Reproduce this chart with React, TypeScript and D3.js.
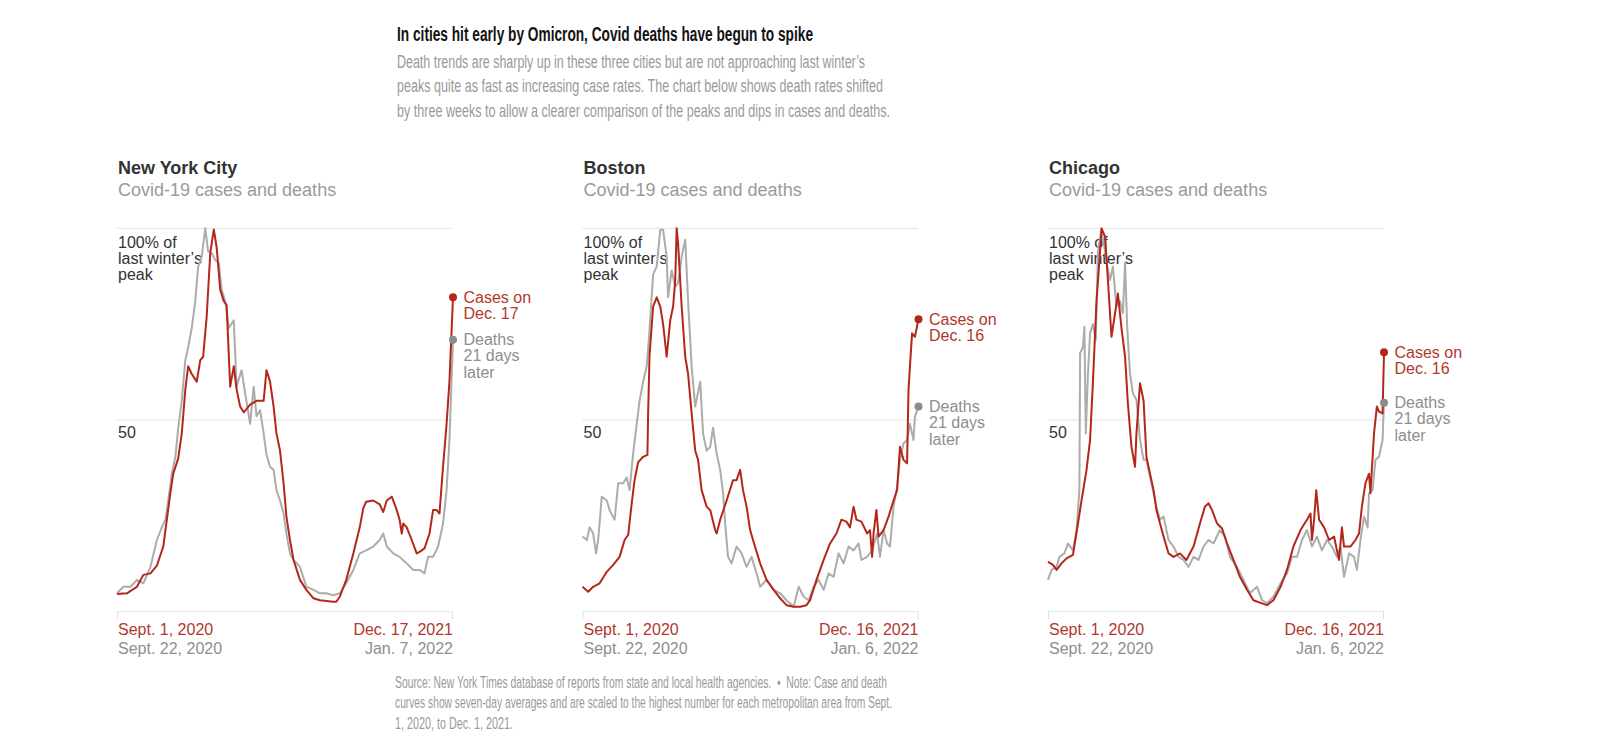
import React from "react";
import * as d3 from "d3";

// ---------- data (day offset from start, % of last winter's peak) ----------
const cities = ["New York City", "Boston", "Chicago"];
const panelSubtitle = "Covid-19 cases and deaths";
const caseStartLabel = "Sept. 1, 2020";
const deathStartLabel = "Sept. 22, 2020";
const caseEndLabels = ["Dec. 17, 2021", "Dec. 16, 2021", "Dec. 16, 2021"];
const deathEndLabels = ["Jan. 7, 2022", "Jan. 6, 2022", "Jan. 6, 2022"];
const caseEndShort = ["Dec. 17", "Dec. 16", "Dec. 16"];
const endDays = [472, 471, 471];
const yTicks = [0, 50, 100];

const nycCases: [number, number][] = [
  [0, 4.6], [14, 4.8], [28, 6.5], [37, 9.6], [47, 10], [56, 12], [65, 17], [70, 24], [75, 31], [79, 36],
  [86, 40], [91, 46.5], [96, 58], [100, 64], [105, 62], [112, 60], [117, 65.6], [121, 66.5], [126, 77], [131, 93.5],
  [136, 99.7], [140, 95], [145, 84], [150, 81], [154, 80], [159, 58.7], [164, 64], [168, 58], [173, 53.5], [178, 52],
  [187, 54], [196, 55], [206, 55], [210, 63], [215, 60], [220, 53.5], [224, 46.5], [229, 42], [234, 33.5], [238, 24.8],
  [243, 18.7], [248, 13.5], [257, 8.3], [266, 5.7], [276, 3.5], [285, 3], [294, 2.8], [304, 2.6], [308, 2.6], [313, 3.9],
  [322, 8.3], [332, 15.2], [341, 22], [346, 27], [350, 28.7], [360, 29], [369, 28], [374, 26], [379, 29], [386, 30],
  [393, 26.5], [397, 24], [400, 20.4], [402, 23], [407, 22], [414, 18.7], [421, 15.2], [425, 15.6], [432, 16.5], [439, 20.4],
  [444, 26.5], [449, 26.5], [453, 25.6], [458, 37.8], [463, 49], [467, 60], [472, 82],
];
const nycDeaths: [number, number][] = [
  [0, 4.8], [9, 6.5], [19, 6.5], [28, 8.3], [37, 7.4], [47, 11.7], [56, 18.7], [63, 22], [68, 24], [72, 29],
  [77, 36], [82, 40.4], [86, 48], [91, 55], [96, 65.6], [100, 69], [105, 74], [110, 81], [114, 90], [119, 92.6],
  [124, 100], [128, 94], [133, 93.5], [138, 91.7], [143, 91], [147, 84], [152, 81], [157, 74], [164, 76], [168, 58.7],
  [175, 63], [180, 57], [187, 49], [192, 58.7], [196, 51], [201, 52.6], [206, 46.5], [210, 41], [215, 37.8], [220, 37],
  [224, 31.7], [229, 29], [234, 25.6], [238, 20.4], [243, 15.2], [248, 13.5], [257, 11.7], [266, 6.5], [276, 5.7], [285, 4.8],
  [294, 4.8], [304, 4.3], [313, 4.8], [322, 7.4], [332, 10.9], [341, 15.2], [350, 16], [360, 17], [369, 18.7], [374, 20.4],
  [379, 17], [388, 15.2], [397, 14.3], [407, 12.6], [416, 10.9], [425, 10.9], [432, 10], [437, 14.3], [444, 14.3], [451, 17],
  [458, 23], [463, 31.7], [467, 44.8], [472, 70.9],
];
const bostonCases: [number, number][] = [
  [0, 6.5], [8, 5.2], [15, 6.5], [24, 7.4], [34, 10.4], [43, 12.2], [52, 14.3], [59, 18.7], [64, 20], [69, 28.3],
  [73, 34.3], [78, 39], [85, 40.4], [91, 40.9], [92, 51.7], [94, 67], [99, 79.6], [104, 82], [109, 79.6], [113, 75],
  [118, 66.5], [123, 76], [127, 79.6], [130, 86.5], [132, 100], [134, 96], [139, 79.6], [144, 66.5], [148, 62], [153, 51.7],
  [158, 42], [162, 39.6], [167, 31.7], [174, 27.4], [179, 26.5], [186, 21.3], [188, 20.4], [193, 24], [202, 29], [211, 34.3],
  [216, 34.3], [221, 37], [225, 31.7], [230, 27.4], [235, 21.3], [239, 18.7], [249, 12.6], [258, 8.3], [268, 5.7], [277, 3.5],
  [286, 1.7], [296, 1.3], [305, 1.3], [314, 1.7], [319, 3], [328, 8.3], [338, 13.5], [347, 17.8], [356, 20.4], [363, 24],
  [370, 23.5], [375, 22], [380, 27.4], [384, 24], [391, 23.5], [399, 20.4], [403, 21.3], [406, 14.3], [408, 20.4], [412, 26.5],
  [415, 19.6], [422, 21.3], [429, 24.8], [436, 29], [441, 31.7], [445, 43], [450, 39.6], [455, 38.7], [457, 57.8], [459, 64],
  [462, 72.6], [466, 71.7], [471, 76.3],
];
const bostonDeaths: [number, number][] = [
  [0, 19.6], [6, 18.7], [10, 22], [15, 20.4], [19, 15.2], [22, 18.7], [27, 30], [34, 29], [38, 26.5], [45, 24],
  [50, 33.5], [57, 33.5], [62, 35], [66, 31.7], [71, 41.3], [76, 49], [80, 55], [85, 60], [90, 64], [94, 73.5],
  [99, 88], [104, 90], [109, 99.6], [113, 99.6], [118, 92.6], [120, 82], [125, 89], [130, 84.8], [134, 85.7], [139, 92.6],
  [144, 97], [148, 81], [153, 64], [158, 53.5], [165, 60], [169, 46.5], [174, 42], [179, 43], [183, 48], [188, 41.3],
  [193, 37], [197, 31], [200, 23], [204, 14.3], [209, 12.6], [216, 17], [223, 15.2], [230, 11.7], [237, 14.3], [244, 10],
  [249, 6.5], [258, 8.3], [268, 5.7], [277, 4.8], [286, 3], [296, 1.3], [303, 6.5], [310, 3.9], [317, 3], [324, 6.5],
  [331, 8.3], [338, 5.7], [345, 10], [352, 9.1], [359, 15.2], [366, 12.6], [373, 17], [380, 16], [387, 17.8], [391, 13.5],
  [399, 14.3], [406, 16], [413, 20.4], [417, 14.3], [422, 21.3], [427, 17.8], [431, 17], [436, 27.4], [441, 32.6], [445, 39.6],
  [450, 43.9], [455, 44.8], [459, 49], [464, 44.8], [466, 50.9], [471, 53.5],
];
const chicagoCases: [number, number][] = [
  [0, 13], [7, 12.2], [12, 10.9], [19, 12.6], [26, 13.9], [35, 14.8], [42, 23], [47, 29], [54, 37], [59, 44.8],
  [63, 60], [68, 81], [73, 94], [75, 100], [80, 97.8], [84, 86.5], [89, 71.7], [94, 77.8], [98, 83], [103, 74],
  [108, 66.5], [112, 54.3], [117, 43], [122, 37.8], [124, 46.5], [129, 59.6], [134, 55], [138, 40.4], [143, 36], [148, 31.7],
  [152, 26.5], [157, 23], [162, 19.6], [169, 15.2], [176, 14.3], [185, 15.2], [194, 13.5], [204, 17], [213, 23], [220, 27.4],
  [225, 28.3], [230, 26.5], [237, 23], [244, 21.7], [251, 17.8], [260, 13.5], [269, 9.1], [279, 5.7], [288, 3], [298, 2.3],
  [307, 1.7], [316, 3], [326, 6.5], [335, 10.9], [344, 17], [354, 21.3], [363, 24], [368, 25.6], [370, 18.7], [373, 24],
  [376, 31.7], [380, 24], [387, 22], [394, 18.7], [401, 19.6], [405, 16], [408, 13.5], [412, 22], [415, 17], [424, 17],
  [431, 18.7], [436, 20.4], [440, 27.4], [445, 33.5], [450, 36], [452, 30.9], [457, 46.5], [461, 53.5], [464, 52.2], [469, 51.7],
  [471, 67.7],
];
const chicagoDeaths: [number, number][] = [
  [0, 8.3], [5, 10.9], [12, 11.7], [16, 14.3], [23, 15.2], [28, 17.8], [35, 16], [40, 21.3], [44, 31.7], [45, 67.4],
  [49, 69], [51, 74.3], [53, 46.5], [56, 62], [59, 72.6], [63, 75], [67, 70.9], [70, 94], [75, 99.6], [80, 94],
  [83, 90], [87, 86.5], [91, 90], [96, 79.6], [101, 81], [105, 77.8], [108, 91], [111, 74.3], [115, 62], [119, 57],
  [124, 55.2], [129, 44.8], [134, 39.6], [138, 39.6], [143, 35.2], [148, 30.9], [152, 27.4], [157, 24], [162, 24.8], [169, 18.7],
  [176, 17], [183, 14.3], [190, 13.5], [197, 11.7], [204, 14.3], [211, 13.5], [218, 17], [225, 18.7], [232, 17.8], [241, 21.3],
  [248, 19.6], [255, 14.3], [265, 11.7], [274, 8.3], [283, 4.8], [293, 6.5], [300, 3], [307, 2.2], [316, 3.9], [326, 7.4],
  [335, 10], [342, 14.3], [349, 14.3], [356, 18.7], [363, 21.3], [370, 17], [377, 19.6], [384, 16], [391, 18.7], [398, 17],
  [405, 14.3], [410, 17], [415, 9.1], [422, 15.2], [429, 14.3], [433, 10.9], [438, 18.7], [443, 24.8], [448, 22], [450, 30.9],
  [455, 31.7], [459, 39.6], [464, 40.4], [469, 44.8], [471, 54.5],
];

const caseSeries = [nycCases, bostonCases, chicagoCases];
const deathSeries = [nycDeaths, bostonDeaths, chicagoDeaths];

const headerTitle = "In cities hit early by Omicron, Covid deaths have begun to spike";
const headerLines = [
  "Death trends are sharply up in these three cities but are not approaching last winter\u2019s",
  "peaks quite as fast as increasing case rates. The chart below shows death rates shifted",
  "by three weeks to allow a clearer comparison of the peaks and dips in cases and deaths.",
];
const footSource = "Source: New York Times database of reports from state and local health agencies.";
const footNoteStart = "Note: Case and death";
const footLines = [
  "curves show seven-day averages and are scaled to the highest number for each metropolitan area from Sept.",
  "1, 2020, to Dec. 1, 2021.",
];
const peakLabel = ["100% of", "last winter\u2019s", "peak"];
const deathNote = ["Deaths", "21 days", "later"];

// ---------- style ----------
const RED = "#b3271b";
const RED_TEXT = "#b1382b";
const GRAY_LINE = "#acacac";
const GRAY_DOT = "#8b8b8b";
const GRAY_TEXT = "#8e8e8e";
const LIGHT_TEXT = "#9a9a9a";
const DARK = "#333333";
const GRID = "#e3e3e3";
const FONT = "'Liberation Sans', Arial, Helvetica, sans-serif";

const panelLeft = [117, 582.5, 1048];
const panelWidth = 336;
const yTop = 228.3;
const yBottom = 611.7;

const startDate = new Date(2020, 8, 1);

function Panel({ i }: { i: number }) {
  const x0 = panelLeft[i];
  const x1 = x0 + panelWidth;
  const endDate = d3.timeDay.offset(startDate, endDays[i]);
  const x = d3.scaleTime().domain([startDate, endDate]).range([x0, x1]);
  const y = d3.scaleLinear().domain([0, 100]).range([yBottom, yTop]);
  const line = d3
    .line<[number, number]>()
    .x((d) => x(d3.timeDay.offset(startDate, d[0])))
    .y((d) => y(d[1]));
  const cases = caseSeries[i];
  const deaths = deathSeries[i];
  const cEnd = cases[cases.length - 1];
  const dEnd = deaths[deaths.length - 1];
  const cx = x(d3.timeDay.offset(startDate, cEnd[0]));
  const cy = y(cEnd[1]);
  const dy = y(dEnd[1]);
  const tx = x1 + 10.5;
  return (
    <g>
      <text x={x0 + 1} y={173.5} fontSize={18} fontWeight="bold" fill={DARK}>
        {cities[i]}
      </text>
      <text x={x0 + 1} y={195.5} fontSize={18} fill={LIGHT_TEXT}>
        {panelSubtitle}
      </text>
      {yTicks.map((t) => (
        <line key={t} x1={x0} x2={x1} y1={y(t)} y2={y(t)} stroke={GRID} strokeWidth={1} />
      ))}
      <line x1={x0 + 0.5} x2={x0 + 0.5} y1={y(0)} y2={y(0) + 8} stroke={GRID} />
      <line x1={x1 - 0.5} x2={x1 - 0.5} y1={y(0)} y2={y(0) + 8} stroke={GRID} />
      <text x={x0 + 1} y={y(50) + 18} fontSize={16} fill={DARK}>50</text>
      {peakLabel.map((s, k) => (
        <text key={s} x={x0 + 1} y={248 + k * 16} fontSize={16} fill={DARK}>
          {s}
        </text>
      ))}
      <path d={line(deaths) || ""} fill="none" stroke={GRAY_LINE} strokeWidth={2} strokeLinejoin="round" />
      <path d={line(cases) || ""} fill="none" stroke={RED} strokeWidth={2} strokeLinejoin="round" />
      <circle cx={cx} cy={dy} r={4} fill={GRAY_DOT} />
      <circle cx={cx} cy={cy} r={4} fill={RED} />
      <text x={tx} y={cy + 5.5} fontSize={16} fill={RED_TEXT}>Cases on</text>
      <text x={tx} y={cy + 22} fontSize={16} fill={RED_TEXT}>{caseEndShort[i]}</text>
      {deathNote.map((s, k) => (
        <text key={s} x={tx} y={dy + 5 + k * 16.5} fontSize={16} fill={GRAY_TEXT}>
          {s}
        </text>
      ))}
      <text x={x0 + 1} y={634.5} fontSize={16} fill={RED_TEXT}>{caseStartLabel}</text>
      <text x={x0 + 1} y={654} fontSize={16} fill={GRAY_TEXT}>{deathStartLabel}</text>
      <text x={x1} y={634.5} fontSize={16} fill={RED_TEXT} textAnchor="end">{caseEndLabels[i]}</text>
      <text x={x1} y={654} fontSize={16} fill={GRAY_TEXT} textAnchor="end">{deathEndLabels[i]}</text>
    </g>
  );
}

export default function App() {
  const headerWidths = [468, 486, 493];
  const headerY = [67.5, 92, 116.5];
  const footLine1 = footSource + "\u00a0\u00a0\u2022\u00a0\u00a0" + footNoteStart;
  return (
    <div>
      <style>{`body{margin:0;background:#fff}`}</style>
      <svg width={1600} height={752} viewBox="0 0 1600 752" style={{ display: "block", fontFamily: FONT }}>
        <rect width={1600} height={752} fill="#fff" />
        <text x={397} y={40.5} fontSize={19.5} fontWeight="bold" fill="#121212" textLength={416} lengthAdjust="spacingAndGlyphs">
          {headerTitle}
        </text>
        {headerLines.map((s, k) => (
          <text key={k} x={397} y={headerY[k]} fontSize={18} fill={LIGHT_TEXT} textLength={headerWidths[k]} lengthAdjust="spacingAndGlyphs">
            {s}
          </text>
        ))}
        {[0, 1, 2].map((i) => (
          <Panel key={i} i={i} />
        ))}
        <text x={395} y={687.5} fontSize={16} fill={LIGHT_TEXT} textLength={492} lengthAdjust="spacingAndGlyphs">
          {footLine1}
        </text>
        <text x={395} y={708} fontSize={16} fill={LIGHT_TEXT} textLength={497} lengthAdjust="spacingAndGlyphs">
          {footLines[0]}
        </text>
        <text x={395} y={728.5} fontSize={16} fill={LIGHT_TEXT} textLength={118} lengthAdjust="spacingAndGlyphs">
          {footLines[1]}
        </text>
      </svg>
    </div>
  );
}
